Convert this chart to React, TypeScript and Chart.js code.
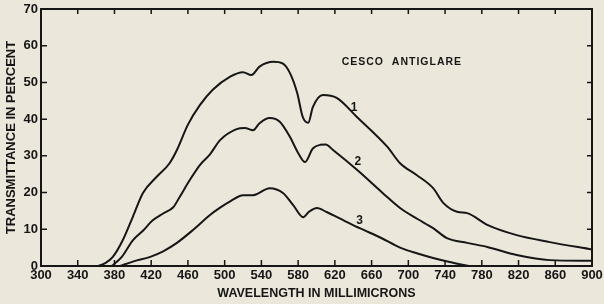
import React, { useEffect, useRef } from "react";
import { Chart, registerables } from "chart.js";

Chart.register(...registerables);

// ---- data ----
const curve1Wavelengths = [362, 370, 378, 389, 400, 411, 426, 440, 448, 460, 473, 487, 506, 520, 529, 538, 553, 563, 571, 579, 585, 591, 596, 607, 622, 644, 677, 691, 709, 727, 738, 754, 764, 786, 818, 854, 900];
const curve1Transmittance = [0, 0.8, 2.4, 7, 13.4, 19.9, 24.3, 28, 31.6, 38.5, 43.8, 48, 51.6, 52.8, 52, 54.3, 55.6, 55.2, 52.6, 47.1, 40.6, 39, 43.3, 46.6, 45.8, 40.6, 32.5, 28, 24.8, 21.2, 17.2, 14.7, 14.4, 11.2, 8.4, 6.5, 4.5];

const curve2Wavelengths = [377, 388, 400, 411, 422, 433, 444, 451, 462, 473, 484, 495, 513, 522, 531, 538, 549, 560, 571, 580, 587.5, 596, 604, 610, 618, 645, 672, 691, 710, 727, 742, 764, 786, 818, 854, 900];
const curve2Transmittance = [0, 2.5, 7, 9.6, 12.5, 14.3, 16, 18.8, 23.4, 27.5, 30.4, 34.3, 37.3, 37.6, 37, 38.9, 40.3, 39.3, 35.2, 30.8, 28.3, 32, 33, 33.1, 31.6, 26, 19.9, 15.8, 12.8, 10.3, 7.6, 6.3, 5.2, 3, 1.6, 1.4];

const curve3Wavelengths = [386, 400, 419, 433, 448, 465.5, 484, 495, 506, 520, 531, 549, 563.5, 574.6, 585.5, 592, 600.5, 611, 629, 647, 670, 691, 710, 727, 745, 766];
const curve3Transmittance = [0, 1.2, 2.5, 4, 6.3, 9.8, 13.9, 15.9, 17.6, 19.3, 19.3, 21.2, 19.9, 16.6, 13.3, 14.8, 15.8, 14.7, 12.5, 10.3, 7.7, 5.0, 3.4, 2.2, 1.1, 0];

const xTickValues = [300, 340, 380, 420, 460, 500, 540, 580, 620, 660, 700, 740, 780, 820, 860, 900];
const yTickValues = [0, 10, 20, 30, 40, 50, 60, 70];

const curveLabels = ["1", "2", "3"];
const curveLabelWavelengths = [641, 645, 647];
const curveLabelTransmittances = [43.2, 28.4, 12.3];

const chartTitle = "CESCO  ANTIGLARE";
const chartTitleWavelength = 693;
const chartTitleTransmittance = 55.6;

const xAxisTitle = "WAVELENGTH IN MILLIMICRONS";
const yAxisTitle = "TRANSMITTANCE IN PERCENT";

const INK = "#161616";
const PAPER = "#ebe7da";
const FONT = "Liberation Sans";

const toPoints = (xs: number[], ys: number[]) => xs.map((x, i) => ({ x, y: ys[i] }));

const decorPlugin = {
  id: "decor",
  beforeDraw(chart: any) {
    const { ctx, width, height } = chart;
    ctx.save();
    ctx.fillStyle = PAPER;
    ctx.fillRect(0, 0, width, height);
    ctx.restore();
  },
  afterDatasetsDraw(chart: any) {
    const { ctx, chartArea, scales } = chart;
    const { left, right, top, bottom } = chartArea;
    const xs = scales.x;
    const ys = scales.y;
    ctx.save();
    ctx.strokeStyle = INK;
    ctx.lineWidth = 2;
    ctx.strokeRect(left, top, right - left, bottom - top);
    ctx.lineWidth = 1.5;
    ctx.beginPath();
    xTickValues.slice(1, -1).forEach((v) => {
      const px = xs.getPixelForValue(v);
      ctx.moveTo(px, bottom);
      ctx.lineTo(px, bottom - 6);
      ctx.moveTo(px, top);
      ctx.lineTo(px, top + 5);
    });
    yTickValues.slice(1, -1).forEach((v) => {
      const py = ys.getPixelForValue(v);
      ctx.moveTo(left, py);
      ctx.lineTo(left + 6, py);
      ctx.moveTo(right, py);
      ctx.lineTo(right - 5, py);
    });
    ctx.stroke();

    ctx.fillStyle = INK;
    ctx.textAlign = "center";
    ctx.textBaseline = "middle";
    ctx.font = `bold 12px "${FONT}"`;
    curveLabels.forEach((t, i) => {
      ctx.fillText(t, xs.getPixelForValue(curveLabelWavelengths[i]), ys.getPixelForValue(curveLabelTransmittances[i]));
    });
    ctx.font = `bold 10.5px "${FONT}"`;
    (ctx as any).letterSpacing = "1px";
    ctx.fillText(chartTitle, xs.getPixelForValue(chartTitleWavelength), ys.getPixelForValue(chartTitleTransmittance));
    ctx.restore();
  },
};

export default function App() {
  const ref = useRef<HTMLCanvasElement | null>(null);

  useEffect(() => {
    if (!ref.current) return;
    const lineStyle = {
      borderColor: INK,
      borderWidth: 2,
      pointRadius: 0,
      fill: false,
      cubicInterpolationMode: "monotone" as const,
    };
    const chart = new Chart(ref.current, {
      type: "line",
      data: {
        datasets: [
          { label: "1", data: toPoints(curve1Wavelengths, curve1Transmittance), ...lineStyle },
          { label: "2", data: toPoints(curve2Wavelengths, curve2Transmittance), ...lineStyle },
          { label: "3", data: toPoints(curve3Wavelengths, curve3Transmittance), ...lineStyle },
        ],
      },
      options: {
        animation: false,
        responsive: false,
        devicePixelRatio: 1,
        events: [],
        layout: { padding: { top: 9, right: 12, left: 0, bottom: 0 } },
        plugins: { legend: { display: false }, tooltip: { enabled: false } },
        scales: {
          x: {
            type: "linear",
            min: 300,
            max: 900,
            afterBuildTicks: (s: any) => {
              s.ticks = xTickValues.map((v) => ({ value: v }));
            },
            afterFit: (s: any) => {
              s.height = 38;
              s.paddingLeft = 0;
              s.paddingRight = 0;
            },
            grid: { display: false, drawTicks: false },
            border: { display: false },
            ticks: {
              autoSkip: false,
              maxRotation: 0,
              padding: 2,
              color: INK,
              font: { family: FONT, weight: "bold", size: 13 },
            },
            title: {
              display: true,
              text: xAxisTitle,
              color: INK,
              font: { family: FONT, weight: "bold", size: 12.5 },
              padding: { top: 0, bottom: 3 },
            },
          },
          y: {
            type: "linear",
            min: 0,
            max: 70,
            afterBuildTicks: (s: any) => {
              s.ticks = yTickValues.map((v) => ({ value: v }));
            },
            afterFit: (s: any) => {
              s.width = 41;
              s.paddingTop = 0;
              s.paddingBottom = 0;
            },
            grid: { display: false, drawTicks: false },
            border: { display: false },
            ticks: {
              padding: 3,
              color: INK,
              font: { family: FONT, weight: "bold", size: 13 },
            },
            title: {
              display: true,
              text: yAxisTitle,
              color: INK,
              font: { family: FONT, weight: "bold", size: 13 },
              padding: { top: 4, bottom: 0 },
            },
          },
        },
      },
      plugins: [decorPlugin],
    });
    return () => chart.destroy();
  }, []);

  return (
    <div style={{ position: "fixed", left: 0, top: 0, width: 604, height: 304, background: PAPER }}>
      <canvas ref={ref} width={604} height={304} style={{ display: "block", width: 604, height: 304 }} />
    </div>
  );
}
